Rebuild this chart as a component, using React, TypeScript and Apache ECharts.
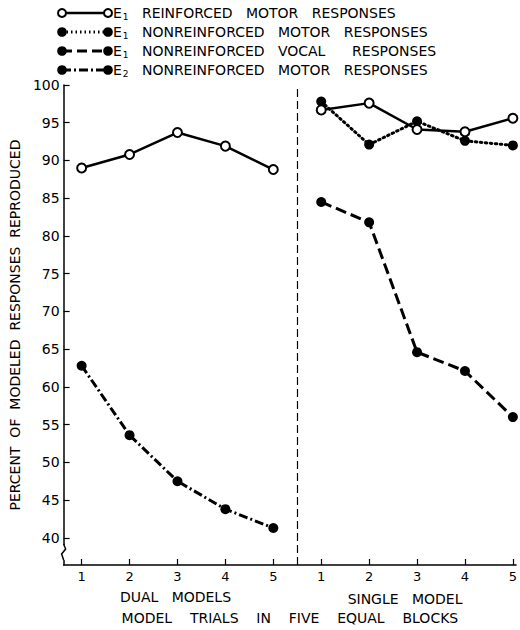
import React, { useEffect, useRef } from "react";
import * as echarts from "echarts";

// ---- data ----
const TRIALS = [1, 2, 3, 4, 5];
const Y_TICKS = [40, 45, 50, 55, 60, 65, 70, 75, 80, 85, 90, 95, 100];
const X_TICKS = [1, 2, 3, 4, 5, 6, 7, 8, 9, 10];
// dual models panel
const dualE1Reinforced = [89.0, 90.8, 93.7, 91.9, 88.8];
const dualE2Nonreinforced = [62.8, 53.6, 47.5, 43.8, 41.3];
// single model panel
const singleE1Reinforced = [96.7, 97.6, 94.1, 93.8, 95.6];
const singleE1NonreinforcedMotor = [97.8, 92.1, 95.2, 92.6, 92.0];
const singleE1NonreinforcedVocal = [84.5, 81.8, 64.6, 62.1, 56.0];
const PANEL_SHIFT = 5;
const DIVIDER = 5.49;

const FONT = "DejaVu Sans";
const INK = "#000";

const dual = (vals: number[]) => TRIALS.map((t, i) => [t, vals[i]]);
const single = (vals: number[]) => TRIALS.map((t, i) => [t + PANEL_SHIFT, vals[i]]);

const openSym = {
  symbol: "circle",
  symbolSize: 9,
  itemStyle: { color: "#fff", borderColor: INK, borderWidth: 2 },
};
const fillSym = {
  symbol: "circle",
  symbolSize: 10,
  itemStyle: { color: INK, borderColor: INK, borderWidth: 0 },
};

const LEGEND = [
  { sub: "1", text: "REINFORCED   MOTOR   RESPONSES", dash: "solid", open: true },
  { sub: "1", text: "NONREINFORCED   MOTOR   RESPONSES", dash: [1.5, 3], open: false },
  { sub: "1", text: "NONREINFORCED   VOCAL      RESPONSES", dash: [10, 5], open: false },
  { sub: "2", text: "NONREINFORCED   MOTOR   RESPONSES", dash: [9, 3, 2, 3], open: false },
];

export default function App() {
  const ref = useRef<HTMLDivElement>(null);
  useEffect(() => {
    if (!ref.current) return;
    const chart = echarts.init(ref.current, undefined, { renderer: "svg" });
    const grid = { left: 60, right: 0, top: 85, bottom: 63 };
    const lineBase = { type: "line", clip: false, silent: true };
    chart.setOption({
      animation: false,
      backgroundColor: "#fff",
      textStyle: { fontFamily: FONT, color: INK },
      grid,
      xAxis: {
        type: "value",
        min: 0.624,
        max: 10.068,
        splitLine: { show: false },
        axisLine: { lineStyle: { color: INK, width: 1.5 } },
        axisTick: { inside: true, length: 6, customValues: X_TICKS, lineStyle: { color: INK, width: 1.2 } },
        axisLabel: {
          customValues: X_TICKS,
          formatter: (v: number) => String(v > PANEL_SHIFT ? v - PANEL_SHIFT : v),
          color: INK,
          fontFamily: FONT,
          fontSize: 13,
          margin: 5,
        },
        name: "MODEL    TRIALS    IN    FIVE    EQUAL    BLOCKS",
        nameLocation: "middle",
        nameGap: 46,
        nameTextStyle: { fontFamily: FONT, fontSize: 14, color: INK },
      },
      yAxis: {
        type: "value",
        min: 36.4,
        max: 100,
        splitLine: { show: false },
        axisLine: { show: true, lineStyle: { color: INK, width: 1.5 } },
        axisTick: { show: true, inside: true, length: 6, customValues: Y_TICKS, lineStyle: { color: INK, width: 1.2 } },
        axisLabel: { customValues: Y_TICKS, color: INK, fontFamily: FONT, fontSize: 14, margin: 4 },
        name: "PERCENT  OF  MODELED  RESPONSES  REPRODUCED",
        nameLocation: "middle",
        nameGap: 35,
        nameTextStyle: { fontFamily: FONT, fontSize: 14, color: INK },
      },
      series: [
        {
          ...lineBase,
          name: "E1 reinforced motor (dual)",
          data: dual(dualE1Reinforced),
          lineStyle: { color: INK, width: 2.5, type: "solid" },
          ...openSym,
          z: 4,
          markLine: {
            silent: true,
            symbol: "none",
            label: { show: false },
            lineStyle: { color: INK, width: 1.2, type: [8, 4] },
            data: [{ xAxis: DIVIDER }],
          },
        },
        {
          ...lineBase,
          name: "E2 nonreinforced motor",
          data: dual(dualE2Nonreinforced),
          lineStyle: { color: INK, width: 3, type: [9, 3, 2, 3] },
          ...fillSym,
        },
        {
          ...lineBase,
          name: "E1 nonreinforced motor",
          data: single(singleE1NonreinforcedMotor),
          lineStyle: { color: INK, width: 3, type: [1.5, 3.5], cap: "round" },
          ...fillSym,
        },
        {
          ...lineBase,
          name: "E1 nonreinforced vocal",
          data: single(singleE1NonreinforcedVocal),
          lineStyle: { color: INK, width: 3, type: [11, 5] },
          ...fillSym,
        },
        {
          ...lineBase,
          name: "E1 reinforced motor (single)",
          data: single(singleE1Reinforced),
          lineStyle: { color: INK, width: 2.5, type: "solid" },
          ...openSym,
          z: 4,
        },
      ],
    });

    const px = (x: number, y: number) => chart.convertToPixel({ gridIndex: 0 }, [x, y]) as number[];
    const bottomY = px(1, 36.4)[1];
    const axisX = px(0.624, 40)[0];
    const dualC = px(3, 40)[0];
    const singleC = px(8, 40)[0];

    const legendEls: any[] = [];
    LEGEND.forEach((row, i) => {
      const y = 13 + i * 19;
      const x0 = 62, x1 = 108;
      legendEls.push({
        type: "line",
        shape: { x1: x0, y1: y, x2: x1, y2: y },
        style: { stroke: INK, lineWidth: row.open ? 2.5 : 3, lineDash: row.dash === "solid" ? null : row.dash },
      });
      [x0, x1].forEach((cx) =>
        legendEls.push({
          type: "circle",
          shape: { cx, cy: y, r: row.open ? 4 : 4.8 },
          style: { fill: row.open ? "#fff" : INK, stroke: INK, lineWidth: row.open ? 2 : 0 },
          z: 5,
        })
      );
      legendEls.push({
        type: "text",
        x: 113,
        y,
        style: {
          text: `{e|E}{s|${row.sub}}{t|   ${row.text}}`,
          verticalAlign: "middle",
          fill: INK,
          rich: {
            e: { fontFamily: FONT, fontSize: 14, lineHeight: 16, verticalAlign: "middle" },
            s: { fontFamily: FONT, fontSize: 9, lineHeight: 16, verticalAlign: "bottom", padding: [6, 0, 0, 1] },
            t: { fontFamily: FONT, fontSize: 14, lineHeight: 16, verticalAlign: "middle" },
          },
        },
      });
    });

    chart.setOption({
      graphic: [
        ...legendEls,
        {
          type: "rect",
          shape: { x: axisX - 4, y: bottomY - 20, width: 8, height: 15 },
          style: { fill: "#fff" },
          z: 10,
        },
        {
          type: "polyline",
          shape: {
            points: [
              [axisX, bottomY - 21],
              [axisX + 2, bottomY - 16],
              [axisX - 2, bottomY - 11],
              [axisX, bottomY - 5],
            ],
          },
          style: { stroke: INK, lineWidth: 1.5, fill: null },
          z: 11,
        },
        {
          type: "text",
          x: dualC - 2,
          y: bottomY + 32,
          style: { text: "DUAL   MODELS", fontFamily: FONT, fontSize: 14, fill: INK, align: "center", verticalAlign: "middle" },
        },
        {
          type: "text",
          x: singleC - 12,
          y: bottomY + 34,
          style: { text: "SINGLE   MODEL", fontFamily: FONT, fontSize: 14, fill: INK, align: "center", verticalAlign: "middle" },
        },
      ],
    });
    return () => chart.dispose();
  }, []);
  return <div ref={ref} style={{ position: "fixed", left: 0, top: 0, width: 520, height: 630 }} />;
}
